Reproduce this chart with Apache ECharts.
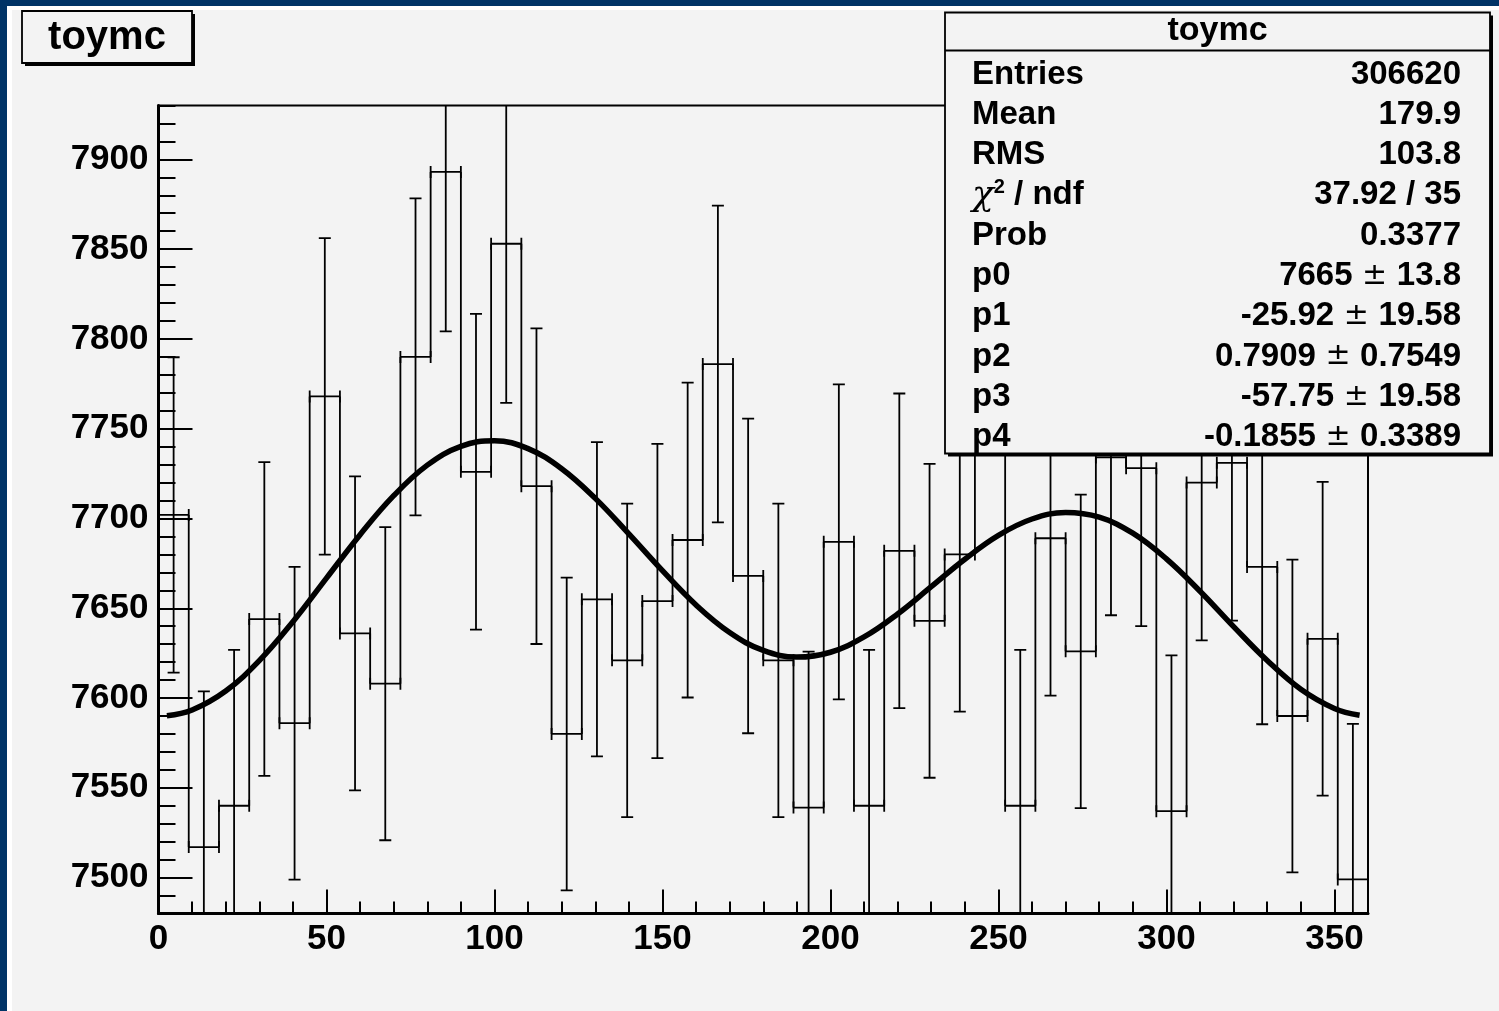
<!DOCTYPE html>
<html><head><meta charset="utf-8">
<script src="https://cdn.jsdelivr.net/npm/echarts@6/dist/echarts.min.js"></script>
<style>html,body{margin:0;padding:0;background:#f3f3f3;overflow:hidden}#c{width:1499px;height:1011px;}</style>
</head><body><div id="c"></div>
<script>
// ---- data ----
const binEdges = [0,9,18,27,36,45,54,63,72,81,90,99,108,117,126,135,144,153,162,171,180,
                  189,198,207,216,225,234,243,252,261,270,279,288,297,306,315,324,333,342,351,360];
const binCounts = [7702,7517,7540,7644,7586,7768,7636,7608,7790,7893,
                   7726,7853,7718,7580,7655,7621,7654,7688,7786,7668,
                   7621,7539,7687,7540,7682,7643,7680,7880,7540,7689,
                   7626,7734,7728,7537,7720,7731,7673,7590,7633,7499];
const binErrors = [87.8,86.7,86.8,87.4,87.1,88.1,87.4,87.2,88.3,88.8,
                   87.9,88.6,87.9,87.1,87.5,87.3,87.5,87.7,88.2,87.6,
                   87.3,86.8,87.7,86.8,87.6,87.4,87.6,88.8,86.8,87.7,
                   87.3,87.9,87.9,86.8,87.9,87.9,87.6,87.1,87.4,86.6];
const fitX = [2.5,10,20,30,40,50,60,70,80,90,100,110,120,130,140,150,160,170,180,
              190,200,210,220,230,240,250,260,270,280,290,300,310,320,330,340,350,357.5];
const fitY = [7590.1,7593.3,7603.9,7620.8,7642.5,7666.8,7691.0,7712.7,7729.7,7740.2,7743.3,
              7738.9,7727.7,7711.2,7691.4,7670.9,7651.8,7636.5,7626.5,7622.8,7625.5,7634.0,
              7646.8,7662.0,7677.3,7690.6,7699.7,7703.3,7700.7,7691.8,7677.5,7659.5,7639.8,
              7620.9,7604.9,7594.2,7590.4];
const histTitle = 'toymc';
const statsLabels = ['Entries','Mean','RMS','{chi|χ}{sup|2}{b| / ndf}','Prob','p0','p1','p2','p3','p4'];
const statsValues = ['306620','179.9','103.8','37.92 / 35','0.3377',
                     '7665{pm| ± }13.8','-25.92{pm| ± }19.58','0.7909{pm| ± }0.7549',
                     '-57.75{pm| ± }19.58','-0.1855{pm| ± }0.3389'];
const X_MIN = 0, X_MAX = 360, Y_MIN = 7480, Y_MAX = 7930;

// ---- build ----
const FONT = '"Liberation Sans", Arial, Helvetica, sans-serif';
const histData = binCounts.map((v, i) => [binEdges[i], binEdges[i + 1], v, binErrors[i],
  i < binCounts.length - 1 ? binCounts[i + 1] : Y_MIN, i === 0 ? 1 : 0]);
const fitData = fitX.map((x, i) => [x, fitY[i]]);

const LW = 1.8, S = 6;
function seg(p1, p2) {
  return { type: 'line', shape: { x1: p1[0], y1: p1[1], x2: p2[0], y2: p2[1] },
           style: { stroke: '#000', lineWidth: LW } };
}
function renderHist(params, api) {
  const lo = api.value(0), hi = api.value(1), v = api.value(2), e = api.value(3),
        nx = api.value(4), first = api.value(5);
  const mid = (lo + hi) / 2;
  const pL = api.coord([lo, v]), pR = api.coord([hi, v]);
  const pN = api.coord([hi, nx]);
  const up = api.coord([mid, v + e]), dn = api.coord([mid, v - e]);
  const ch = [];
  ch.push(seg(pL, pR));                                   // bin content (x error bar)
  ch.push(seg([pL[0], pL[1] - S], [pL[0], pL[1] + S]));   // serifs
  ch.push(seg([pR[0], pR[1] - S], [pR[0], pR[1] + S]));
  ch.push(seg(pR, pN));                                   // outline to next bin
  if (first) ch.push(seg(api.coord([lo, Y_MIN]), pL));
  ch.push(seg(up, dn));                                   // y error bar
  ch.push(seg([up[0] - S, up[1]], [up[0] + S, up[1]]));
  ch.push(seg([dn[0] - S, dn[1]], [dn[0] + S, dn[1]]));
  return { type: 'group', children: ch };
}

// stats box geometry (layout only)
const BX = 945, BY = 12.5, BW = 545, BH = 441, ROW0 = 74.5, ROWH = 40.3;
const graphics = [
  { type: 'rect', left: 0, top: 0, shape: { width: 1499, height: 6 }, style: { fill: '#003366' }, z: 200 },
  { type: 'rect', left: 0, top: 0, shape: { width: 7, height: 1011 }, style: { fill: '#003366' }, z: 200 },
  { type: 'rect', left: 7, top: 6, shape: { width: 1492, height: 4 }, style: { fill: '#ffffff' }, z: 200 },
  { type: 'rect', left: 7, top: 6, shape: { width: 5, height: 1005 }, style: { fill: '#ffffff' }, z: 200 },
  // title box
  { type: 'rect', shape: { x: 25, y: 14, width: 170, height: 52 }, style: { fill: '#000' }, z: 200 },
  { type: 'rect', shape: { x: 22, y: 11, width: 170, height: 52 }, style: { fill: '#f3f3f3', stroke: '#000', lineWidth: 1.8 }, z: 201 },
  { type: 'text', x: 107, y: 38, style: { text: histTitle, font: 'bold 40px ' + FONT, fill: '#000', align: 'center', verticalAlign: 'middle' }, z: 202 },
  // stats box
  { type: 'rect', shape: { x: BX + 3, y: BY + 3, width: BW, height: BH }, style: { fill: '#000' }, z: 200 },
  { type: 'rect', shape: { x: BX, y: BY, width: BW, height: BH }, style: { fill: '#f3f3f3', stroke: '#000', lineWidth: 1.8 }, z: 201 },
  { type: 'line', shape: { x1: BX, y1: 50.5, x2: BX + BW, y2: 50.5 }, style: { stroke: '#000', lineWidth: 1.8 }, z: 202 },
  { type: 'text', x: BX + BW / 2, y: 31, style: { text: histTitle, font: 'bold 34px ' + FONT, fill: '#000', align: 'center', verticalAlign: 'middle' }, z: 202 }
];
const richStats = {
  b: { font: 'bold 33px ' + FONT, fill: '#000' },
  chi: { font: 'italic 36px "DejaVu Serif", "Liberation Serif", serif', fill: '#000' },
  sup: { font: 'bold 20px ' + FONT, fill: '#000', verticalAlign: 'top', padding: [0, 0, 14, 0] },
  pm: { font: 'normal 30px "DejaVu Sans", sans-serif', fill: '#000' }
};
statsLabels.forEach((t, i) => {
  graphics.push({ type: 'text', x: 972, y: ROW0 + i * ROWH, z: 202,
    style: { text: i === 3 ? t : '{b|' + t + '}', rich: richStats, font: 'bold 33px ' + FONT, fill: '#000', align: 'left', verticalAlign: 'middle' } });
});
statsValues.forEach((t, i) => {
  graphics.push({ type: 'text', x: 1461, y: ROW0 + i * ROWH, z: 202,
    style: { text: t.replace(/^([^{]+)/, '{b|$1}').replace(/\}([^{}]+)$/, '}{b|$1}'), rich: richStats, font: 'bold 33px ' + FONT, fill: '#000', align: 'right', verticalAlign: 'middle' } });
});

const plain = v => String(v);
const labelStyle = { color: '#000', fontSize: 35, fontWeight: 'bold', fontFamily: FONT, formatter: plain };
const chart = echarts.init(document.getElementById('c'), null, { renderer: 'canvas' });
chart.setOption({
  animation: false,
  backgroundColor: '#f3f3f3',
  grid: { left: 158.5, top: 105.5, width: 1209.5, height: 808, show: true, borderColor: '#000', borderWidth: 2, backgroundColor: 'transparent' },
  xAxis: [
    { type: 'value', min: X_MIN, max: X_MAX, interval: 50, position: 'bottom',
      axisLine: { show: true, onZero: false, lineStyle: { color: '#000', width: 3 } },
      axisTick: { inside: true, length: 24, lineStyle: { color: '#000', width: 2 } },
      axisLabel: Object.assign({ margin: 8, showMaxLabel: false, showMinLabel: true }, labelStyle),
      splitLine: { show: false } },
    { type: 'value', min: X_MIN, max: X_MAX, interval: 10, position: 'bottom',
      axisLine: { show: false, onZero: false },
      axisTick: { inside: true, length: 12, lineStyle: { color: '#000', width: 2 } },
      axisLabel: { show: false }, splitLine: { show: false } }
  ],
  yAxis: [
    { type: 'value', min: Y_MIN, max: Y_MAX, splitNumber: 9, position: 'left',
      axisLine: { show: true, onZero: false, lineStyle: { color: '#000', width: 3 } },
      axisTick: { inside: true, length: 34, lineStyle: { color: '#000', width: 2 } },
      axisLabel: Object.assign({ margin: 10, showMinLabel: false, showMaxLabel: false }, labelStyle),
      splitLine: { show: false } },
    { type: 'value', min: Y_MIN, max: Y_MAX, interval: 10, position: 'left',
      axisLine: { show: false, onZero: false },
      axisTick: { inside: true, length: 17, lineStyle: { color: '#000', width: 2 } },
      axisLabel: { show: false }, splitLine: { show: false } }
  ],
  series: [
    { type: 'custom', name: 'hist', xAxisIndex: 0, yAxisIndex: 0, clip: true,
      renderItem: renderHist, data: histData, encode: { x: [0, 1], y: [2] }, z: 2 },
    { type: 'line', name: 'fit', xAxisIndex: 0, yAxisIndex: 0, data: fitData, smooth: 0.4,
      showSymbol: false, lineStyle: { color: '#000', width: 5.5 }, z: 3, silent: true }
  ],
  graphic: graphics
});
</script></body></html>
